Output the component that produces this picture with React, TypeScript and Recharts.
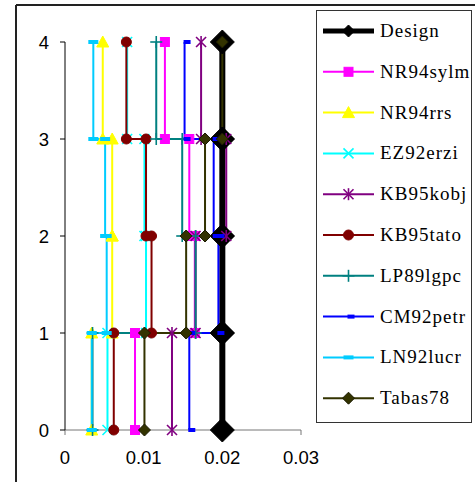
import React from 'react';
import { LineChart, Line, XAxis, YAxis } from 'recharts';

// Story drift per story (story 1..4)
const seriesNames = ['Design', 'NR94sylm', 'NR94rrs', 'EZ92erzi', 'KB95kobj', 'KB95tato', 'LP89lgpc', 'CM92petr', 'LN92lucr', 'Tabas78'];
const design = [0.02, 0.02, 0.02, 0.02];
const nr94sylm = [0.0089, 0.0165, 0.0158, 0.0127];
const nr94rrs = [0.0034, 0.006, 0.006, 0.0048];
const ez92erzi = [0.0054, 0.0103, 0.0101, 0.0079];
const kb95kobj = [0.0136, 0.0166, 0.0205, 0.0173];
const kb95tato = [0.0062, 0.011, 0.0103, 0.0078];
const lp89lgpc = [0.0035, 0.0166, 0.0149, 0.0116];
const cm92petr = [0.0158, 0.0195, 0.0189, 0.0152];
const ln92lucr = [0.0034, 0.0053, 0.0051, 0.0036];
const tabas78 = [0.0101, 0.0154, 0.0178, 0.02];

const xTicks = [0, 0.01, 0.02, 0.03];
const yTicks = [0, 1, 2, 3, 4];

const seriesValues = [design, nr94sylm, nr94rrs, ez92erzi, kb95kobj, kb95tato, lp89lgpc, cm92petr, ln92lucr, tabas78];

type MarkerType = 'bigDiamond' | 'square' | 'triangle' | 'x' | 'star' | 'circle' | 'plus' | 'dashBlue' | 'dashLight' | 'diamond';

const styles: { color: string; width: number; marker: MarkerType }[] = [
  { color: '#000000', width: 6, marker: 'bigDiamond' },
  { color: '#FF00FF', width: 2, marker: 'square' },
  { color: '#FFFF00', width: 2, marker: 'triangle' },
  { color: '#00FFFF', width: 2, marker: 'x' },
  { color: '#800080', width: 2, marker: 'star' },
  { color: '#800000', width: 2, marker: 'circle' },
  { color: '#008080', width: 2, marker: 'plus' },
  { color: '#0000FF', width: 2, marker: 'dashBlue' },
  { color: '#00CCFF', width: 2, marker: 'dashLight' },
  { color: '#333300', width: 2, marker: 'diamond' },
];

// stair profile: (d_i, i-1) -> (d_i, i)
const buildProfile = (vals: number[]) => {
  const pts: { x: number; y: number }[] = [];
  vals.forEach((d, i) => {
    pts.push({ x: d, y: i });
    pts.push({ x: d, y: i + 1 });
  });
  return pts;
};

function Marker({ type, cx, cy, color, legend }: { type: MarkerType; cx: number; cy: number; color: string; legend?: boolean }) {
  switch (type) {
    case 'bigDiamond': {
      const h = legend ? 6 : 12;
      return <polygon points={`${cx},${cy - h} ${cx + h},${cy} ${cx},${cy + h} ${cx - h},${cy}`} fill="#000" stroke="#000" strokeWidth={1} />;
    }
    case 'diamond': {
      const h = 6;
      return <polygon points={`${cx},${cy - h} ${cx + h},${cy} ${cx},${cy + h} ${cx - h},${cy}`} fill="#333300" stroke="#1a1a00" strokeWidth={1} />;
    }
    case 'square':
      return <rect x={cx - 4.5} y={cy - 4.5} width={9} height={9} fill="#FF00FF" stroke="#FF00FF" strokeWidth={1} />;
    case 'triangle':
      return <polygon points={`${cx},${cy - 6} ${cx + 6},${cy + 5} ${cx - 6},${cy + 5}`} fill="#FFFF00" stroke="#FFFF00" strokeWidth={1} />;
    case 'x':
      return (
        <g stroke={color} strokeWidth={1.6}>
          <line x1={cx - 5} y1={cy - 5} x2={cx + 5} y2={cy + 5} />
          <line x1={cx - 5} y1={cy + 5} x2={cx + 5} y2={cy - 5} />
        </g>
      );
    case 'star':
      return (
        <g stroke={color} strokeWidth={1.6}>
          <line x1={cx - 5} y1={cy - 5} x2={cx + 5} y2={cy + 5} />
          <line x1={cx - 5} y1={cy + 5} x2={cx + 5} y2={cy - 5} />
          <line x1={cx} y1={cy - 6} x2={cx} y2={cy + 6} />
        </g>
      );
    case 'circle':
      return <circle cx={cx} cy={cy} r={5} fill="#800000" stroke="#800000" strokeWidth={1} />;
    case 'plus':
      return (
        <g stroke={color} strokeWidth={1.6}>
          <line x1={cx - 6} y1={cy} x2={cx + 6} y2={cy} />
          <line x1={cx} y1={cy - 6} x2={cx} y2={cy + 6} />
        </g>
      );
    case 'dashBlue':
      return <rect x={cx - 1} y={cy - 2} width={7} height={4} fill="#0000FF" />;
    case 'dashLight':
      return <rect x={cx - 5} y={cy - 2} width={10} height={4} fill="#00CCFF" />;
  }
  return null;
}

const W = 475;
const H = 482;

export default function App() {
  const legendTop = 31;
  const legendStep = 40.8;
  return (
    <div style={{ position: 'absolute', left: 0, top: 0, width: W, height: H, overflow: 'hidden', background: '#fff' }}>
      <LineChart width={W} height={H} margin={{ top: 42, right: 174, bottom: 22, left: 0 }}>
        <XAxis
          type="number"
          dataKey="x"
          domain={[0, 0.03]}
          ticks={xTicks}
          interval={0}
          tickFormatter={(v: number) => String(v)}
          height={30}
          tickSize={5}
          tickMargin={16}
          stroke="#777"
          tick={{ fill: '#000', fontSize: 18.5, fontFamily: 'Liberation Sans, Arial, sans-serif' }}
        />
        <YAxis
          type="number"
          dataKey="y"
          domain={[0, 4]}
          ticks={yTicks}
          interval={0}
          width={65}
          tickSize={5}
          tickMargin={11}
          stroke="#000"
          tick={{ fill: '#000', fontSize: 18.5, fontFamily: 'Liberation Sans, Arial, sans-serif' }}
        />
        {seriesNames.map((name, si) => {
          const st = styles[si];
          return (
            <Line
              key={name}
              name={name}
              data={buildProfile(seriesValues[si])}
              dataKey="y"
              type="linear"
              stroke={st.color}
              strokeWidth={st.width}
              isAnimationActive={false}
              activeDot={false}
              dot={(p: any) => (
                <Marker key={`${name}-${p.index}`} type={st.marker} cx={p.cx} cy={p.cy} color={st.color} />
              )}
            />
          );
        })}
      </LineChart>
      <svg width={W} height={H} style={{ position: 'absolute', left: 0, top: 0, pointerEvents: 'none' }}>
        <line x1={16} y1={5} x2={W} y2={5} stroke="#222" strokeWidth={2} />
        <line x1={16} y1={5} x2={16} y2={H} stroke="#222" strokeWidth={2} />
        <rect x={316.5} y={10.5} width={155} height={412} fill="#fff" stroke="#333" strokeWidth={1} />
        {seriesNames.map((name, si) => {
          const st = styles[si];
          const cy = legendTop + legendStep * si;
          return (
            <g key={name}>
              <line x1={323} y1={cy} x2={374} y2={cy} stroke={st.color} strokeWidth={si === 0 ? 5 : 2} />
              <Marker type={st.marker} cx={348.5} cy={cy} color={st.color} legend />
              <text x={380} y={cy + 6} fontSize={19} letterSpacing={1} fontFamily="Liberation Serif, Times New Roman, serif" fill="#000">
                {name}
              </text>
            </g>
          );
        })}
      </svg>
    </div>
  );
}
